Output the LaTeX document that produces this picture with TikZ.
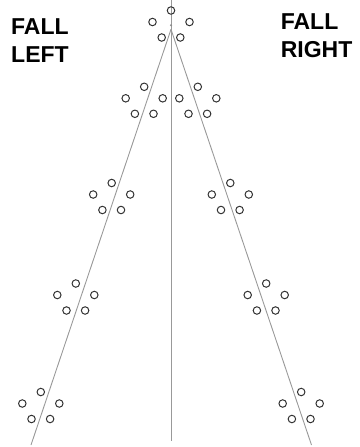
\documentclass[tikz,border=0pt]{standalone}
\usepackage{fontspec}
\setmainfont{Liberation Sans}
\newcommand\ringgroup[3]{%
  \node[ring] (#1t) at (#2,#3-11.5) {};
  \node[ring] (#1l) at (#2-18.5,#3) {};
  \node[ring] (#1r) at (#2+18.5,#3) {};
  \node[ring] (#1bl) at (#2-9.3,#3+15.5) {};
  \node[ring] (#1br) at (#2+9.3,#3+15.5) {};}
\begin{document}
\begin{tikzpicture}[x=1pt,y=-1pt,
  ring/.style={circle,draw=black!80,line width=1pt,minimum size=7.5pt,inner sep=0pt},
  guide/.style={draw=black!40,line width=0.9pt},
  pin/.style={circle,fill=black!45,minimum size=2.4pt,inner sep=0pt},
  lbl/.style={font=\fontsize{23}{23}\selectfont\bfseries,anchor=base west,inner sep=0pt}]
\useasboundingbox (0,0) rectangle (359,447);
\coordinate (top) at (171,0);
\coordinate (bot) at (171,440.7);
\coordinate (apex) at (171,29.3);
\coordinate (bl) at (31,445);
\coordinate (br) at (311.5,445);
\draw[guide] (top) -- (bot);
\draw[guide] (apex) -- (bl);
\draw[guide] (apex) -- (br);
\node[pin] (tip) at (171,25.3) {};
\ringgroup{A}{171}{22}
\ringgroup{Ltwo}{144.2}{98.3}
\ringgroup{Rtwo}{197.8}{98.3}
\ringgroup{Lthree}{111.7}{194.5}
\ringgroup{Rthree}{230.3}{194.5}
\ringgroup{Lfour}{75.8}{295}
\ringgroup{Rfour}{266.2}{295}
\ringgroup{Lfive}{40.8}{403.5}
\ringgroup{Rfive}{301.2}{403.5}
\node[lbl] (lf1) at (11,34.3) {FALL};
\node[lbl] (lf2) at (11,62.3) {LEFT};
\node[lbl] (rf1) at (280.6,29.3) {FALL};
\node[lbl] (rf2) at (280.6,57.3) {RIGHT};
\end{tikzpicture}
\end{document}
